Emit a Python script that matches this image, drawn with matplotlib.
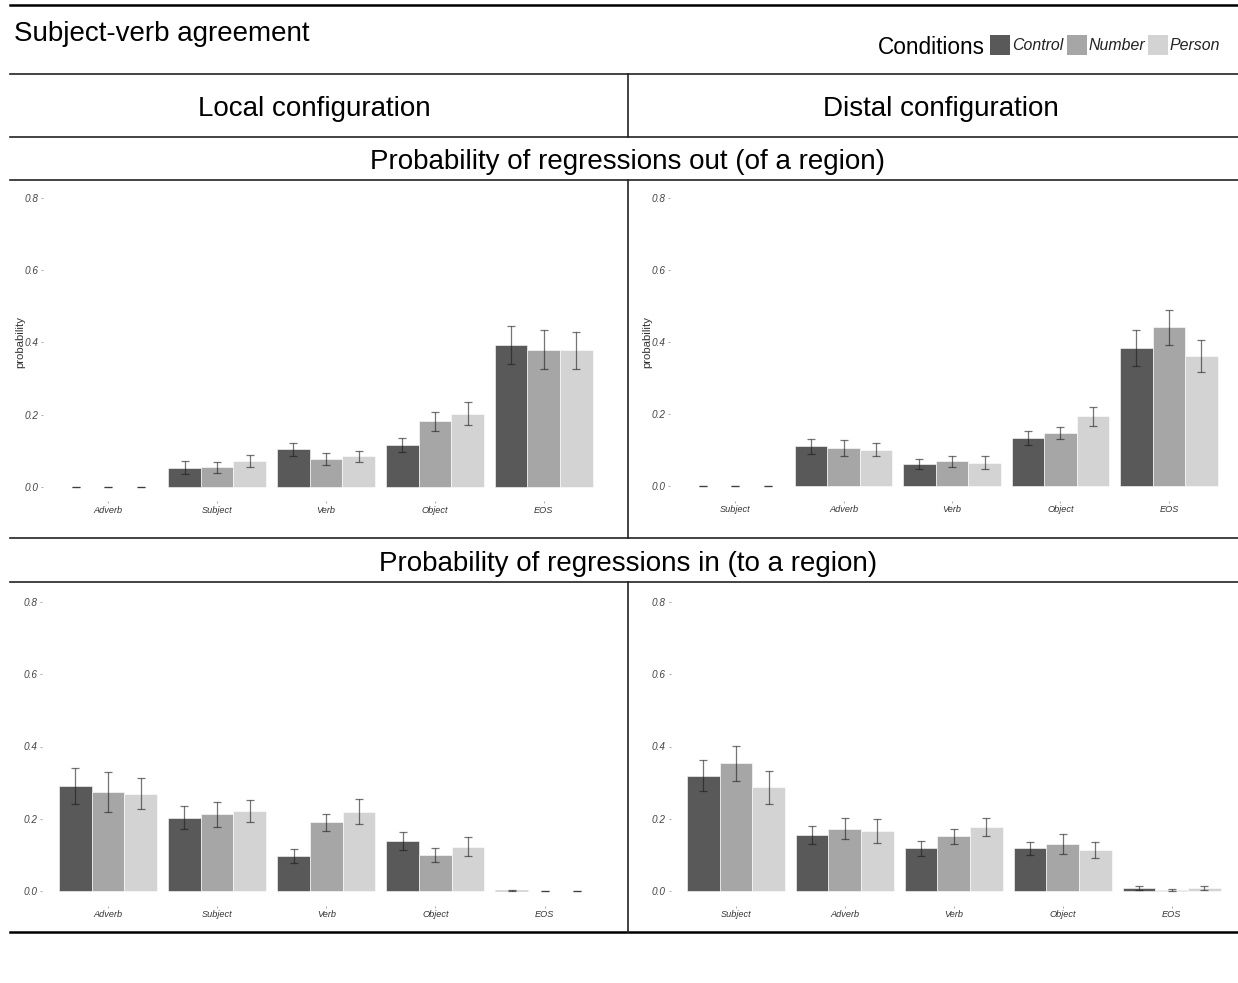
import matplotlib
matplotlib.use('Agg')
import matplotlib.pyplot as plt
import numpy as np
from matplotlib.lines import Line2D
from matplotlib.patches import Rectangle

plt.rcParams['font.family'] = ['Liberation Sans', 'DejaVu Sans']

W, H = 1238, 983

conditions = ["Control", "Number", "Person"]
colors = ["#595959", "#a6a6a6", "#d3d3d3"]

# regressions out, local configuration
out_local_regions = ["Adverb", "Subject", "Verb", "Object", "EOS"]
out_local_mean = [
    [0.0, 0.053, 0.104, 0.117, 0.393],
    [0.0, 0.055, 0.077, 0.182, 0.380],
    [0.0, 0.072, 0.085, 0.203, 0.378],
]
out_local_err = [
    [0.0, 0.018, 0.019, 0.019, 0.053],
    [0.0, 0.015, 0.017, 0.026, 0.054],
    [0.0, 0.016, 0.016, 0.031, 0.052],
]

# regressions out, distal configuration
out_distal_regions = ["Subject", "Adverb", "Verb", "Object", "EOS"]
out_distal_mean = [
    [0.0, 0.111, 0.062, 0.133, 0.382],
    [0.0, 0.106, 0.069, 0.148, 0.441],
    [0.0, 0.101, 0.065, 0.194, 0.361],
]
out_distal_err = [
    [0.0, 0.021, 0.014, 0.020, 0.050],
    [0.0, 0.022, 0.015, 0.017, 0.049],
    [0.0, 0.018, 0.018, 0.026, 0.045],
]

# regressions in, local configuration
in_local_regions = ["Adverb", "Subject", "Verb", "Object", "EOS"]
in_local_mean = [
    [0.290, 0.203, 0.096, 0.138, 0.002],
    [0.274, 0.212, 0.190, 0.099, 0.0],
    [0.269, 0.221, 0.220, 0.123, 0.0],
]
in_local_err = [
    [0.050, 0.031, 0.019, 0.025, 0.002],
    [0.055, 0.034, 0.024, 0.020, 0.0],
    [0.043, 0.030, 0.035, 0.026, 0.0],
]

# regressions in, distal configuration
in_distal_regions = ["Subject", "Adverb", "Verb", "Object", "EOS"]
in_distal_mean = [
    [0.319, 0.154, 0.118, 0.118, 0.008],
    [0.353, 0.173, 0.151, 0.130, 0.004],
    [0.287, 0.165, 0.177, 0.114, 0.008],
]
in_distal_err = [
    [0.043, 0.025, 0.020, 0.019, 0.006],
    [0.048, 0.029, 0.020, 0.028, 0.003],
    [0.045, 0.033, 0.024, 0.022, 0.006],
]

yticks = [0.0, 0.2, 0.4, 0.6, 0.8]


def fx(x):
    return x / W


def fy(y):
    return 1 - y / H


def hline(fig, y, x0=10, x1=W, lw=1.2, color="#222222"):
    fig.add_artist(Line2D([fx(x0), fx(x1)], [fy(y), fy(y)], lw=lw, color=color,
                          transform=fig.transFigure))


def vline(fig, x, y0, y1, lw=1.2, color="#222222"):
    fig.add_artist(Line2D([fx(x), fx(x)], [fy(y0), fy(y1)], lw=lw, color=color,
                          transform=fig.transFigure))


def panel(fig, box, regions, means, errs, ylabel_x=None):
    x0, y0, x1, y1 = box
    ax = fig.add_axes([fx(x0), fy(y1), (x1 - x0) / W, (y1 - y0) / H])
    x = np.arange(1, len(regions) + 1)
    width = 0.3
    for i in range(3):
        pos = x + (i - 1) * width
        ax.bar(pos, means[i], width=width, color=colors[i], edgecolor="white",
               linewidth=0.4, zorder=2)
        ax.errorbar(pos, means[i], yerr=errs[i], fmt="none", ecolor="#1a1a1a",
                    alpha=0.6, elinewidth=0.9, capsize=2.6, capthick=0.9, zorder=3)
    ax.set_xlim(0.4, len(regions) + 0.6)
    ax.set_ylim(-0.04, 0.84)
    ax.set_xticks(x)
    ax.set_xticklabels(regions, fontsize=6.6, style="italic", color="#333333")
    ax.set_yticks(yticks)
    ax.set_yticklabels([f"{t:.1f}" for t in yticks], fontsize=7.2, style="italic",
                       color="#444444")
    ax.tick_params(axis="both", length=1.5, width=0.5, color="#888888", pad=2)
    for s in ax.spines.values():
        s.set_visible(False)
    if ylabel_x is not None:
        ax.set_ylabel("probability", fontsize=8.2, color="#333333")
        ax.yaxis.set_label_coords((ylabel_x - x0) / (x1 - x0), 0.5)
    return ax


fig = plt.figure(figsize=(W / 100, H / 100), dpi=100)

# frame lines of the layout
hline(fig, 5, lw=1.8, color="black")
hline(fig, 74)
hline(fig, 137)
hline(fig, 180)
hline(fig, 538)
hline(fig, 582)
hline(fig, 932, lw=1.8, color="black")
vline(fig, 628, 74, 137)
vline(fig, 628, 180, 538)
vline(fig, 628, 582, 932)

# headings
fig.text(fx(14), fy(34), "Subject-verb agreement", fontsize=20, va="center", ha="left")
fig.text(fx(314), fy(109), "Local configuration", fontsize=20, va="center", ha="center")
fig.text(fx(941), fy(109), "Distal configuration", fontsize=20, va="center", ha="center")
fig.text(fx(628), fy(162), "Probability of regressions out (of a region)", fontsize=20,
         va="center", ha="center")
fig.text(fx(628), fy(564), "Probability of regressions in (to a region)", fontsize=20,
         va="center", ha="center")

# legend
fig.text(fx(878), fy(47), "Conditions", fontsize=16.3, va="center", ha="left")
key_x = [990, 1067, 1148]
for kx, lab, col in zip(key_x, conditions, colors):
    fig.add_artist(Rectangle((fx(kx), fy(55)), 20 / W, 20 / H, facecolor=col,
                             edgecolor="none", transform=fig.transFigure))
    fig.text(fx(kx + 22), fy(46), lab, fontsize=11.4, style="italic", va="center",
             ha="left", color="#222222")

panel(fig, (43, 183.5, 609, 501.5), out_local_regions, out_local_mean, out_local_err,
      ylabel_x=25)
panel(fig, (670, 183.5, 1234, 500.5), out_distal_regions, out_distal_mean,
      out_distal_err, ylabel_x=652)
panel(fig, (42.5, 587.5, 610, 905.5), in_local_regions, in_local_mean, in_local_err)
panel(fig, (670.5, 587.5, 1237, 905.5), in_distal_regions, in_distal_mean,
      in_distal_err)

fig.savefig("out.png", dpi=100)
plt.close(fig)
